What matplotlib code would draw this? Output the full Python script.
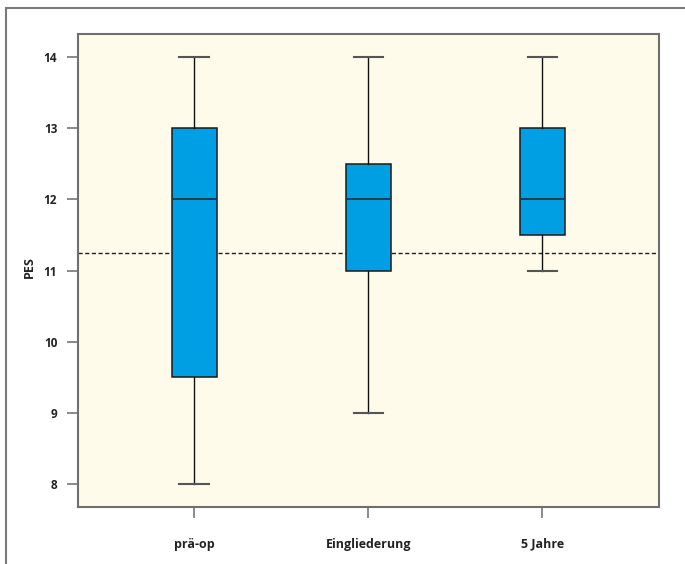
import matplotlib.pyplot as plt
from matplotlib.patches import Rectangle

plt.rcParams['font.family'] = ['Open Sans', 'DejaVu Sans']

groups = ['prä-op', 'Eingliederung', '5 Jahre']
whisker_low = [8, 9, 11]
q1 = [9.5, 11, 11.5]
medians = [12, 12, 12]
q3 = [13, 12.5, 13]
whisker_high = [14, 14, 14]
reference_line = 11.25
yticks = [8, 9, 10, 11, 12, 13, 14]

stats = []
for name, lo, a, m, b, hi in zip(groups, whisker_low, q1, medians, q3, whisker_high):
    stats.append({'label': name, 'whislo': lo, 'q1': a, 'med': m, 'q3': b, 'whishi': hi, 'fliers': []})

fig = plt.figure(figsize=(6.85, 5.64), dpi=100)
# outer frame, only left and top edges fall inside the canvas
fig.patches.append(Rectangle((6 / 685, -0.1), 1.2, 1 - 8 / 564 + 0.1, transform=fig.transFigure,
                             fill=False, edgecolor='#7a7a7a', linewidth=1.5))

ax = fig.add_axes([78 / 685, 1 - 507 / 564, (659 - 78) / 685, (507 - 34) / 564])
ax.set_facecolor('#fffbea')

ax.bxp(stats, positions=[1, 2, 3], widths=0.26, patch_artist=True, showfliers=False,
       boxprops=dict(facecolor='#009fe3', edgecolor='#1a1a1a', linewidth=1.1),
       medianprops=dict(color='#1f3a4a', linewidth=1.4),
       whiskerprops=dict(color='#111111', linewidth=1.0),
       capprops=dict(color='#555555', linewidth=1.5),
       capwidths=0.17, zorder=3)

ax.axhline(reference_line, color='#222222', linestyle=(0, (3, 1.8)), linewidth=1.0, zorder=2)

ax.set_xlim(0.332, 3.67)
ax.set_ylim(7.67, 14.33)
ax.set_yticks(yticks)
ax.set_xticks([1, 2, 3])
ax.set_xticklabels(groups, fontsize=9, fontweight='bold', color='#222222')
ax.set_yticklabels([str(t) for t in yticks], fontsize=8.5, fontweight='bold', color='#222222')
ax.tick_params(axis='both', length=8, width=1.2, color='#777777')
ax.tick_params(axis='y', pad=7)
ax.tick_params(axis='x', pad=14)
ax.set_ylabel('PES', fontsize=9, fontweight='bold', color='#222222')
ax.yaxis.set_label_coords(-0.072, 0.508)

for side in ax.spines.values():
    side.set_color('#6f6f6f')
    side.set_linewidth(1.5)

fig.savefig('out.png', dpi=100)
